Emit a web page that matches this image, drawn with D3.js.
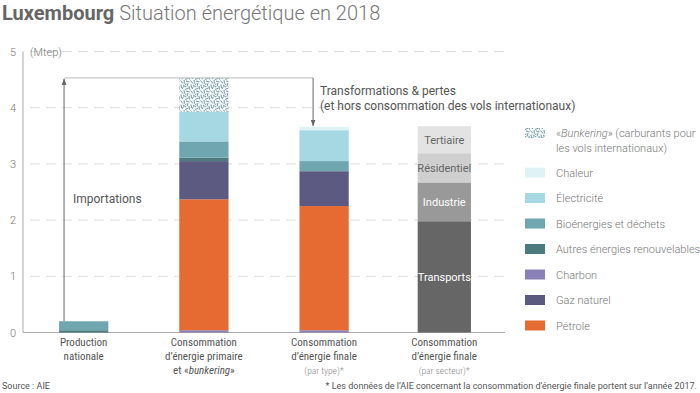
<!DOCTYPE html>
<html>
<head>
<meta charset="utf-8">
<script src="https://cdn.jsdelivr.net/npm/d3@7"></script>
<style>
body { margin: 0; background: #fff; }
svg { font-family: Roboto, "Noto Sans", sans-serif; }
.grid line { stroke: #ddd; stroke-dasharray: 10 6; }
.lbl { fill: #777; font-size: 11px; font-weight: 300; }
</style>
</head>
<body>
<svg id="chart" width="700" height="393"></svg>
<script>
const width = 700, height = 393

// data (Mtep)
const columns = ["prod", "primaire", "finaleType", "finaleSecteur"]
const energyTypes = ["Pétrole", "Gaz naturel", "Charbon", "Autres énergies renouvelables", "Bioénergies et déchets", "Électricité", "Chaleur", "Bunkering"]
const prodValues = [0, 0, 0, 0.04, 0.16, 0, 0, 0]
const primaireValues = [2.33, 0.68, 0.04, 0.06, 0.29, 0.53, 0, 0.60]
const finaleTypeValues = [2.21, 0.62, 0.04, 0, 0.18, 0.55, 0.06, 0]
const sectors = ["Transports", "Industrie", "Résidentiel", "Tertiaire"]
const sectorValues = [1.98, 0.69, 0.52, 0.48]
const yTicks = [0, 1, 2, 3, 4, 5]

// colors
const typeColor = d3.scaleOrdinal().domain(energyTypes)
  .range(["#e66b32", "#5c5a80", "#8a80b8", "#4d7a7f", "#6fa6b0", "#a6d8e3", "#dff2f6", "url(#bunk)"])
const sectorColor = d3.scaleOrdinal().domain(sectors).range(["#666666", "#999999", "#cfcfcf", "#e3e3e3"])
const sectorText = d3.scaleOrdinal().domain(sectors).range(["#fff", "#fff", "#666", "#666"])
const order = ["Charbon", "Pétrole", "Gaz naturel", "Autres énergies renouvelables", "Bioénergies et déchets", "Électricité", "Chaleur", "Bunkering"]

const svg = d3.select("#chart")
const defs = svg.append("defs")
// hatch pattern for bunkering (short scattered strokes)
const pat = defs.append("pattern").attr("id", "bunk").attr("patternUnits", "userSpaceOnUse")
  .attr("width", 10).attr("height", 10)
pat.append("rect").attr("width", 10).attr("height", 10).attr("fill", "#f4fafb")
const strokes = [[0.5,0.5,3,3.5],[4,0,4.5,3.5],[6,1,9.5,2],[8,3,7,6.5],[1,4.5,1.5,8],[3,5,6,7],[5,9.5,8.5,8],[9,6,9.5,9.5],[2,9,3.5,6.5],[6,3.5,5.5,5]]
strokes.forEach(s => pat.append("line").attr("x1", s[0]).attr("y1", s[1]).attr("x2", s[2]).attr("y2", s[3])
  .attr("stroke", "#3f6f75").attr("stroke-width", 0.7))

const x = d3.scaleBand().domain(columns).range([23, 505]).paddingInner(0.59).paddingOuter(0.3)
const y = d3.scaleLinear().domain([0, 5]).range([332.5, 51.5])

// grid
svg.append("g").attr("class", "grid").selectAll("line").data(yTicks.slice(1)).join("line")
  .attr("x1", 30).attr("x2", 505).attr("y1", d => y(d)).attr("y2", d => y(d))

// y axis
svg.append("line").attr("x1", 23).attr("x2", 23).attr("y1", y(5)).attr("y2", y(0)).attr("stroke", "#aaa")
svg.append("line").attr("x1", 23).attr("x2", 505).attr("y1", y(0)).attr("y2", y(0)).attr("stroke", "#aaa")
svg.append("g").selectAll("text").data(yTicks).join("text").attr("class", "lbl")
  .attr("x", 13).attr("y", d => y(d) + 4).attr("text-anchor", "middle").text(d => d)
svg.append("text").attr("class", "lbl").attr("x", 30).attr("y", y(5) + 4).text("(Mtep)")

// stacked energy-type bars
const typeSeries = { prod: prodValues, primaire: primaireValues, finaleType: finaleTypeValues }
Object.keys(typeSeries).forEach(col => {
  const vals = typeSeries[col]
  let acc = 0
  const segs = order.map(t => {
    const v = vals[energyTypes.indexOf(t)]
    const s = { t, y0: acc, y1: acc + v }
    acc += v
    return s
  }).filter(s => s.y1 > s.y0)
  svg.append("g").selectAll("rect").data(segs).join("rect")
    .attr("x", x(col)).attr("width", x.bandwidth())
    .attr("y", d => y(d.y1)).attr("height", d => y(d.y0) - y(d.y1))
    .attr("fill", d => typeColor(d.t))
})

// sector bar
let acc = 0
const secSegs = sectors.map((s, i) => { const o = { s, y0: acc, y1: acc + sectorValues[i] }; acc += sectorValues[i]; return o })
const sg = svg.append("g")
sg.selectAll("rect").data(secSegs).join("rect")
  .attr("x", x("finaleSecteur") - 2).attr("width", x.bandwidth() + 4)
  .attr("y", d => y(d.y1)).attr("height", d => y(d.y0) - y(d.y1))
  .attr("fill", d => sectorColor(d.s))
sg.selectAll("text").data(secSegs).join("text")
  .attr("x", x("finaleSecteur") + x.bandwidth() / 2).attr("y", d => (y(d.y0) + y(d.y1)) / 2 + 4)
  .attr("text-anchor", "middle").style("font-size", "11px").attr("fill", d => sectorText(d.s)).text(d => d.s)

// arrows
defs.append("marker").attr("id", "arr").attr("viewBox", "0 0 10 10").attr("refX", 9).attr("refY", 5)
  .attr("markerWidth", 7).attr("markerHeight", 7).attr("orient", "auto-start-reverse")
  .append("path").attr("d", "M0,1.5L10,5L0,8.5z").attr("fill", "#666")
const topY = y(d3.sum(primaireValues))
const ax = x("prod") + 5
svg.append("line").attr("x1", ax).attr("x2", ax).attr("y1", y(d3.sum(prodValues))).attr("y2", topY + 1)
  .attr("stroke", "#666").attr("marker-end", "url(#arr)")
const bx = x("finaleType") + x.bandwidth() / 2 - 11
svg.append("line").attr("x1", ax).attr("x2", bx).attr("y1", topY).attr("y2", topY).attr("stroke", "#bbb")
svg.append("line").attr("x1", bx).attr("x2", bx).attr("y1", topY).attr("y2", y(d3.sum(finaleTypeValues)) - 1)
  .attr("stroke", "#666").attr("marker-end", "url(#arr)")
svg.append("text").attr("x", 73).attr("y", 203).style("font-size", "12px").attr("fill", "#555").text("Importations")
svg.append("text").attr("x", 320).attr("y", 95).style("font-size", "12px").attr("fill", "#555").text("Transformations & pertes")
svg.append("text").attr("x", 320).attr("y", 110).style("font-size", "12px").attr("fill", "#555").text("(et hors consommation des vols internationaux)")

// x labels
const xLabels = [
  ["prod", [["Production"], ["nationale"]]],
  ["primaire", [["Consommation"], ["d’énergie primaire"], ["et «", "bunkering", "»"]]],
  ["finaleType", [["Consommation"], ["d’énergie finale"], ["(par type)*"]]],
  ["finaleSecteur", [["Consommation"], ["d’énergie finale"], ["(par secteur)*"]]]
]
xLabels.forEach(([col, lines]) => {
  lines.forEach((ln, i) => {
    const t = svg.append("text").attr("x", x(col) + x.bandwidth() / 2).attr("y", 346 + i * 14)
      .attr("text-anchor", "middle").attr("fill", "#555").style("font-size", "11px").style("font-stretch", "condensed")
    if (ln[0].startsWith("(")) t.style("font-size", "9.5px").attr("fill", "#888").style("font-weight", 300)
    ln.forEach((part, j) => t.append("tspan").style("font-style", j === 1 ? "italic" : null).text(part))
  })
})

// legend
const legendItems = ["Bunkering", "Chaleur", "Électricité", "Bioénergies et déchets", "Autres énergies renouvelables", "Charbon", "Gaz naturel", "Pétrole"]
const lg = svg.append("g")
legendItems.forEach((t, i) => {
  const yy = 133 + i * 25.5 + (i > 0 ? 14 : 0)
  lg.append("rect").attr("x", 525).attr("y", yy - 5).attr("width", 20).attr("height", 10).attr("fill", typeColor(t))
  if (t === "Bunkering") {
    const tt = lg.append("text").attr("class", "lbl").attr("x", 556).attr("y", yy + 4)
    tt.append("tspan").text("«")
    tt.append("tspan").style("font-style", "italic").text("Bunkering")
    tt.append("tspan").text("» (carburants pour")
    lg.append("text").attr("class", "lbl").attr("x", 556).attr("y", yy + 19).text("les vols internationaux)")
  } else {
    lg.append("text").attr("class", "lbl").attr("x", 556).attr("y", yy + 4).text(t)
  }
})

// title & notes
const title = svg.append("text").attr("x", 2).attr("y", 20).style("font-size", "20px")
title.append("tspan").attr("fill", "#666").style("font-weight", 700).text("Luxembourg ")
title.append("tspan").attr("fill", "#777").style("font-weight", 300).text("Situation énergétique en 2018")
svg.append("text").attr("x", 2).attr("y", 389).attr("fill", "#555").style("font-size", "9px").text("Source : AIE")
svg.append("text").attr("x", 697).attr("y", 389).attr("text-anchor", "end").attr("fill", "#555").style("font-size", "9px")
  .text("* Les données de l’AIE concernant la consommation d’énergie finale portent sur l’année 2017.")
</script>
</body>
</html>
